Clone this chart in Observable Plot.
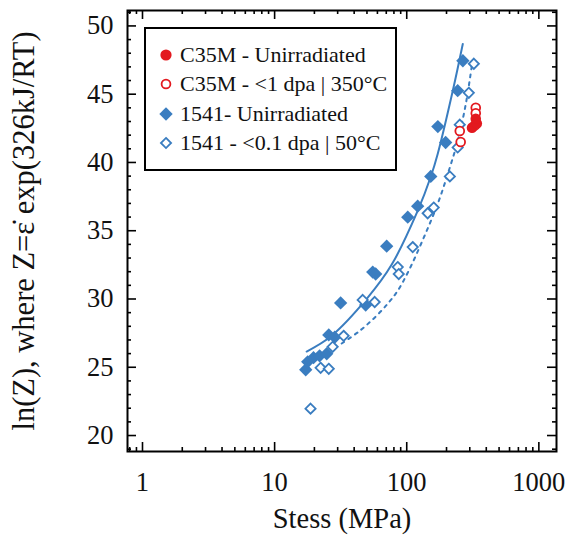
<!DOCTYPE html>
<html><head><meta charset="utf-8">
<script src="https://cdn.jsdelivr.net/npm/d3@7"></script>
<script src="https://cdn.jsdelivr.net/npm/@observablehq/plot@0.6"></script>
<style>
body{margin:0;background:#fff;}
#wrap{position:relative;width:571px;height:535px;}
#wrap svg, #wrap svg text, #legend{font-family:"Liberation Serif","Times New Roman",serif !important;}
#legend{position:absolute;left:144px;top:27px;width:253px;height:144px;box-sizing:border-box;border:2px solid #000;background:#fff;font-size:22px;color:#111;}
.row{position:absolute;left:12px;height:28px;display:flex;align-items:center;white-space:nowrap;}
.row svg{margin-right:6px;}
</style></head><body><div id="wrap"></div>
<script>
// ---- data ----
const c35mUnirrStress = [312, 339, 333];
const c35mUnirrLnZ    = [42.55, 42.85, 43.2];
const c35mIrrStress   = [333, 333, 252, 256, 327];
const c35mIrrLnZ      = [44.0, 43.6, 42.3, 41.5, 42.7];
const u1541Stress = [17.2, 17.8, 19.7, 21.9, 24.8, 25.7, 28.5, 31.6, 48.9, 55.3, 58.2, 70.5, 101.8, 121, 152, 172, 197, 243, 266];
const u1541LnZ    = [24.82, 25.4, 25.7, 25.84, 25.99, 27.37, 27.2, 29.71, 29.56, 31.97, 31.83, 33.87, 35.99, 36.8, 38.98, 42.63, 41.46, 45.26, 47.45];
const i1541Stress = [18.7, 22.3, 25.7, 27.5, 33.3, 46.4, 57.2, 85.5, 87, 111, 144, 160, 212, 243, 252, 295, 322];
const i1541LnZ    = [21.97, 24.96, 24.89, 26.5, 27.3, 29.93, 29.78, 32.34, 31.83, 33.8, 36.28, 36.7, 38.98, 41.1, 42.77, 45.1, 47.23];
const fitUnirrStress = [17.48, 26.57, 50.64, 76.97, 121.2, 152.0, 171.7, 223.1, 265.6];
const fitUnirrLnZ    = [26.15, 27.25, 30.10, 32.52, 36.47, 38.95, 40.64, 45.25, 48.68];
const fitIrrStress = [32.18, 43.29, 58.24, 73.05, 85.5, 103.6, 134.5, 171.7, 208.1, 243.4, 280, 310.8];
const fitIrrLnZ    = [26.74, 27.61, 28.71, 29.74, 30.61, 32.08, 34.49, 36.98, 39.39, 41.59, 44.29, 47.07];
const xMajor = [1, 10, 100, 1000];
const xMinor = [0.8, 0.9, 2,3,4,5,6,7,8,9, 20,30,40,50,60,70,80,90, 200,300,400,500,600,700,800,900];
const yMajor = [20, 25, 30, 35, 40, 45, 50];
const yMinor = [19,21,22,23,24,26,27,28,29,31,32,33,34,36,37,38,39,41,42,43,44,46,47,48,49,51];
const legendLabels = ["C35M - Unirradiated", "C35M - <1 dpa | 350°C", "1541- Unirradiated", "1541 - <0.1 dpa | 50°C"];

const blue = "#3a7dc0", red = "#e3191f";
const W = 571, H = 535, mT = 10, mR = 15, mB = 84, mL = 127;
const pW = W - mL - mR, pH = H - mT - mB;
const zip = (xs, ys) => xs.map((x, i) => ({x, y: ys[i]}));
const font = "Liberation Serif, Times New Roman, serif";

const chart = Plot.plot({
  width: W, height: H,
  marginTop: mT, marginRight: mR, marginBottom: mB, marginLeft: mL,
  style: {fontFamily: font, background: "#fff", color: "#111"},
  x: {type: "log", domain: [0.77, 1360]},
  y: {domain: [18.83, 51.13]},
  marks: [
    Plot.line(zip(fitUnirrStress, fitUnirrLnZ), {x: "x", y: "y", stroke: blue, strokeWidth: 2, curve: "catmull-rom"}),
    Plot.line(zip(fitIrrStress, fitIrrLnZ), {x: "x", y: "y", stroke: blue, strokeWidth: 2, strokeDasharray: "3,5", curve: "catmull-rom"}),
    Plot.dot(zip(u1541Stress, u1541LnZ), {x: "x", y: "y", symbol: "diamond2", r: 6, fill: blue, stroke: "none"}),
    Plot.dot(zip(i1541Stress, i1541LnZ), {x: "x", y: "y", symbol: "diamond2", r: 4.6, fill: "#fff", stroke: blue, strokeWidth: 1.8}),
    Plot.dot(zip(c35mIrrStress, c35mIrrLnZ), {x: "x", y: "y", r: 4.4, fill: "#fff", stroke: red, strokeWidth: 1.8}),
    Plot.dot(zip(c35mUnirrStress, c35mUnirrLnZ), {x: "x", y: "y", r: 5.3, fill: red, stroke: "none"}),
    // inward ticks on all four sides
    Plot.tickX(xMajor, {x: d => d, insetTop: pH - 9, stroke: "#000", strokeWidth: 1.6}),
    Plot.tickX(xMajor, {x: d => d, insetBottom: pH - 9, stroke: "#000", strokeWidth: 1.6}),
    Plot.tickX(xMinor, {x: d => d, insetTop: pH - 4, stroke: "#000", strokeWidth: 1.6}),
    Plot.tickX(xMinor, {x: d => d, insetBottom: pH - 4, stroke: "#000", strokeWidth: 1.6}),
    Plot.tickY(yMajor, {y: d => d, insetRight: pW - 9, stroke: "#000", strokeWidth: 1.6}),
    Plot.tickY(yMajor, {y: d => d, insetLeft: pW - 9, stroke: "#000", strokeWidth: 1.6}),
    Plot.tickY(yMinor, {y: d => d, insetRight: pW - 4, stroke: "#000", strokeWidth: 1.6}),
    Plot.tickY(yMinor, {y: d => d, insetLeft: pW - 4, stroke: "#000", strokeWidth: 1.6}),
    Plot.frame({stroke: "#000", strokeWidth: 2}),
    Plot.axisX(xMajor, {tickSize: 0, tickPadding: 21, fontSize: 26.5, fontFamily: font, tickFormat: d => String(d), label: null}),
    Plot.axisX([], {label: "Stess (MPa)", labelAnchor: "center", labelArrow: "none", labelOffset: 76, fontSize: 28.5, fontFamily: font, tickSize: 0}),
    Plot.axisY(yMajor, {tickSize: 0, tickPadding: 14, fontSize: 26.5, fontFamily: font, tickFormat: d => String(d), label: null}),
    Plot.axisY([], {label: "ln(Z), where Z=\u03B5\u0307 exp(326kJ/RT)", labelAnchor: "center", labelArrow: "none", labelOffset: 115, fontSize: 30.5, fontFamily: font, tickSize: 0})
  ]
});

const wrap = document.getElementById("wrap");
wrap.appendChild(chart);

// legend overlay
const legend = document.createElement("div");
legend.id = "legend";
const symbols = [
  `<circle cx="8" cy="8" r="5.6" fill="${red}"/>`,
  `<circle cx="8" cy="8" r="4.4" fill="#fff" stroke="${red}" stroke-width="1.8"/>`,
  `<path d="M8,1.3L14.7,8L8,14.7L1.3,8Z" fill="${blue}"/>`,
  `<path d="M8,2.9L13.1,8L8,13.1L2.9,8Z" fill="#fff" stroke="${blue}" stroke-width="1.8"/>`
];
legendLabels.forEach((lab, i) => {
  const row = document.createElement("div");
  row.className = "row";
  row.style.top = (12 + i * 29.3) + "px";
  row.innerHTML = `<svg width="16" height="16">${symbols[i]}</svg><span></span>`;
  row.querySelector("span").textContent = lab;
  legend.appendChild(row);
});
wrap.appendChild(legend);
</script></body></html>
